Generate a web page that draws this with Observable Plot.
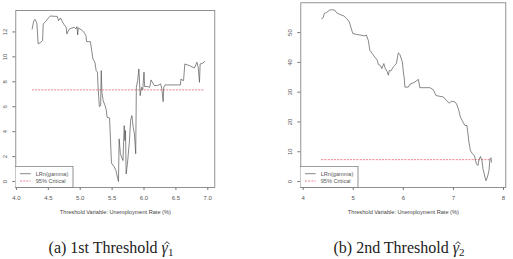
<!DOCTYPE html>
<html><head><meta charset="utf-8">
<script src="https://cdn.jsdelivr.net/npm/d3@7"></script>
<script src="https://cdn.jsdelivr.net/npm/@observablehq/plot@0.6"></script>
<style>
body{margin:0;background:#fff;}
#wrap{position:relative;width:513px;height:259px;overflow:hidden;font-family:"Liberation Sans",Arial,sans-serif;}
.panel{position:absolute;top:0;}
.legend{position:absolute;}
.cap{position:absolute;top:238px;width:220px;text-align:center;font-family:"Liberation Serif","Times New Roman",serif;font-size:16px;color:#222;white-space:nowrap;line-height:20px;}
.cap sub{font-size:11px;vertical-align:-3px;line-height:0;}
.g{position:relative;display:inline-block;font-style:italic;}
.hat{position:absolute;left:2.6px;top:3px;}
</style></head>
<body><div id="wrap"></div>
<script>
// Panel (a): 1st threshold
const thr1 = [4.246,4.27,4.29,4.32,4.34,4.38,4.41,4.42,4.46,4.51,4.53,4.61,4.64,4.66,4.69,4.74,4.78,4.79,4.83,4.87,4.91,4.93,4.95,4.96,4.97,5.02,5.06,5.09,5.10,5.16,5.18,5.20,5.23,5.25,5.27,5.28,5.30,5.32,5.33,5.34,5.36,5.39,5.41,5.42,5.46,5.49,5.53,5.56,5.58,5.60,5.61,5.63,5.65,5.67,5.69,5.70,5.71,5.72,5.74,5.77,5.79,5.81,5.83,5.85,5.87,5.88,5.90,5.92,5.94,5.96,5.98,6.00,6.01,6.05,6.09,6.11,6.16,6.21,6.26,6.28,6.30,6.31,6.33,6.57,6.58,6.61,6.62,6.64,6.71,6.79,6.83,6.85,6.87,6.88,6.92,6.95];
const lr1 = [12.24,12.85,13.01,12.72,11.04,11.17,11.30,12.64,12.85,13.17,13.28,13.25,13.25,12.90,13.12,12.64,12.37,11.84,12.24,12.32,12.37,12.24,12.43,11.76,12.32,12.16,11.97,11.70,11.22,11.22,10.50,9.83,9.57,8.90,8.77,7.56,6.01,6.09,8.90,7.16,6.49,6.09,5.69,5.16,5.10,1.47,1.20,0.88,0.43,0.00,3.42,2.22,1.95,1.68,4.49,3.29,4.09,0.61,1.42,3.15,4.89,5.29,4.36,3.82,2.22,7.56,8.10,9.03,6.89,7.56,7.35,8.77,7.62,7.62,7.56,8.15,7.70,7.70,7.83,7.43,6.41,7.56,7.75,7.75,8.23,8.10,8.10,9.43,9.30,9.11,9.57,9.17,7.96,9.43,9.49,9.62];
const crit1 = 7.35, critRange1 = [4.25, 6.95];
const xTicks1 = [4.0,4.5,5.0,5.5,6.0,6.5,7.0];
const yTicks1 = [0,2,4,6,8,10,12];

// Panel (b): 2nd threshold
const thr2 = [4.37,4.40,4.42,4.47,4.52,4.57,4.63,4.67,4.73,4.81,4.87,4.92,4.97,4.99,5.06,5.16,5.23,5.26,5.30,5.33,5.38,5.43,5.48,5.50,5.54,5.57,5.61,5.64,5.68,5.70,5.72,5.75,5.80,5.83,5.86,5.90,5.93,5.98,6.00,6.02,6.03,6.10,6.13,6.23,6.30,6.33,6.53,6.60,6.65,6.70,6.80,6.86,6.92,6.96,7.03,7.06,7.10,7.14,7.19,7.23,7.27,7.31,7.34,7.38,7.42,7.44,7.46,7.49,7.51,7.54,7.57,7.59,7.63,7.65,7.68,7.71,7.73,7.75,7.76];
const lr2 = [54.7,55.0,56.4,56.8,57.5,57.7,57.5,56.6,56.1,55.6,54.7,53.6,50.8,49.7,49.4,49.1,48.9,49.2,47.4,44.1,42.9,41.8,40.7,39.3,39.0,37.9,39.6,37.9,36.8,35.7,37.3,37.1,38.5,39.0,39.6,43.2,42.7,40.1,36.8,34.5,31.7,31.7,32.6,33.4,34.3,31.5,31.5,30.8,28.9,28.7,28.4,27.2,26.3,27.0,26.7,26.1,24.4,21.6,20.0,18.8,18.8,13.2,10.4,9.3,8.7,7.1,5.9,5.4,7.3,8.4,7.1,4.3,1.5,0.3,1.5,3.7,7.6,8.0,6.5];
const crit2 = 7.35, critRange2 = [4.37, 7.76];
const xTicks2 = [4,5,6,7,8];
const yTicks2 = [0,10,20,30,40,50];

const xTitle = "Threshold Variable: Unemployment Rate (%)";
const legendLabels = ["LRn(gamma)", "95% Critical"];
const captions = [["(a) 1st Threshold ", "γ", "1"], ["(b) 2nd Threshold ", "γ", "2"]];

const wrap = document.getElementById("wrap");

function panel(o) {
  const data = o.xs.map((x, i) => ({x, y: o.ys[i]}));
  const H = 220;
  const svg = Plot.plot({
    width: o.width, height: H,
    marginLeft: o.mL, marginRight: o.mR, marginTop: o.mT, marginBottom: H - o.frameBottom,
    x: {domain: o.xDomain},
    y: {domain: o.yDomain},
    style: {fontFamily: "'Liberation Sans', Arial, sans-serif", fontSize: "6px", color: "#444", background: "transparent", overflow: "visible"},
    marks: [
      Plot.frame({stroke: "#777", strokeWidth: 0.8}),
      Plot.axisX({ticks: o.xTicks, tickSize: 3, tickPadding: 5, tickFormat: o.xFmt, label: null, stroke: "#777", fill: "#555", fontSize: 6}),
      Plot.axisY({ticks: o.yTicks, tickSize: 3, tickFormat: () => "", label: null, stroke: "#777"}),
      Plot.text(o.yTicks, {y: d => d, text: d => String(d), frameAnchor: "left", dx: -11, rotate: -90, textAnchor: "middle", fill: "#555", fontSize: 6}),
      Plot.text([xTitle], {frameAnchor: "bottom", dy: 26, text: d => d, fill: "#444", fontSize: 5.6}),
      Plot.ruleY([o.crit], {x1: () => o.critRange[0], x2: () => o.critRange[1], stroke: "#ee6f80", strokeDasharray: "2,1.2", strokeWidth: 0.9}),
      Plot.line(data, {x: "x", y: "y", stroke: "#555", strokeWidth: 0.7})
    ]
  });
  svg.classList.add("panel");
  svg.style.left = o.left + "px";
  wrap.appendChild(svg);

  // legend box at lower-left corner of frame
  const fx = o.left + o.mL, fb = o.frameBottom;
  const lg = document.createElementNS("http://www.w3.org/2000/svg", "svg");
  lg.setAttribute("class", "legend");
  lg.setAttribute("width", 60); lg.setAttribute("height", 23);
  lg.style.left = fx + "px"; lg.style.top = (fb - 21.5) + "px";
  lg.innerHTML = `
    <rect x="0" y="0.3" width="58" height="21.2" fill="#fff" stroke="#777" stroke-width="0.8"/>
    <line x1="5" x2="15.7" y1="7.7" y2="7.7" stroke="#555" stroke-width="0.7"/>
    <line x1="5" x2="15.7" y1="15" y2="15" stroke="#ee6f80" stroke-width="0.9" stroke-dasharray="2,1.2"/>
    <text x="20.7" y="9.6" font-size="5.6" fill="#555" font-family="Liberation Sans, Arial, sans-serif">${legendLabels[0]}</text>
    <text x="20.7" y="16.9" font-size="5.6" fill="#555" font-family="Liberation Sans, Arial, sans-serif">${legendLabels[1]}</text>`;
  wrap.appendChild(lg);

  const cap = document.createElement("div");
  cap.className = "cap";
  cap.style.left = (o.capCenter - 110) + "px";
  const c = o.caption;
  cap.innerHTML = `${c[0]}<span class="g">${c[1]}<svg class="hat" width="6" height="4" viewBox="0 0 6 4"><polyline points="0.3,3.4 3,0.6 5.7,3.4" fill="none" stroke="#222" stroke-width="0.9"/></svg></span><sub>${c[2]}</sub>`;
  wrap.appendChild(cap);
}

panel({xs: thr1, ys: lr1, xDomain: [3.99, 7.11], yDomain: [-0.48, 13.72], xTicks: xTicks1, yTicks: yTicks1,
  xFmt: d => d.toFixed(1), crit: crit1, critRange: critRange1,
  left: 0, width: 220, mL: 15.3, mR: 5.7, mT: 10, frameBottom: 187, capCenter: 111, caption: captions[0]});
panel({xs: thr2, ys: lr2, xDomain: [3.952, 8.046], yDomain: [-2.0, 60.0], xTicks: xTicks2, yTicks: yTicks2,
  xFmt: d => String(d), crit: crit2, critRange: critRange2,
  left: 280, width: 233, mL: 20.3, mR: 7.7, mT: 2.3, frameBottom: 187, capCenter: 399, caption: captions[1]});
</script>
</body></html>
